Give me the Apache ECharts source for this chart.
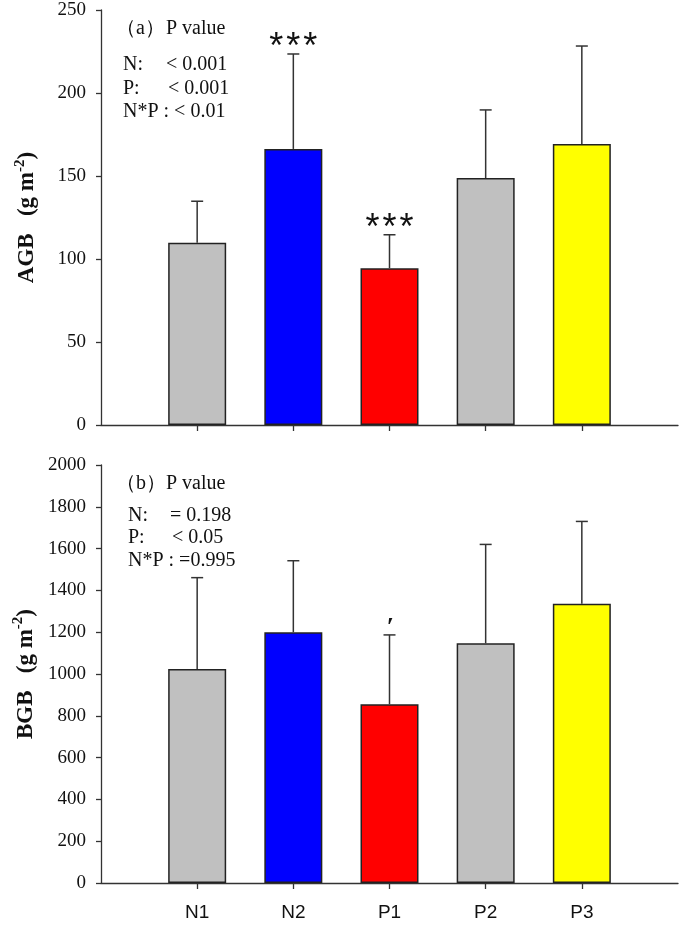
<!DOCTYPE html>
<html><head><meta charset="utf-8">
<script src="https://cdn.jsdelivr.net/npm/echarts@6/dist/echarts.min.js"></script>
<style>html,body{margin:0;padding:0;background:#fff}#c{width:685px;height:925px}</style>
</head><body><div id="c"></div>
<script>
// ---- data ----
const categories = ['N1', 'N2', 'P1', 'P2', 'P3'];
const barColors = ['#C0C0C0', '#0000FF', '#FF0000', '#C0C0C0', '#FFFF00'];
const agbMean = [109.8, 166.3, 94.5, 148.8, 169.3];
const agbUpper = [134.8, 223.5, 114.6, 189.8, 228.3];
const agbMarks = ['', '***', '***', '', ''];
const bgbMean = [1024, 1200, 855, 1147, 1336];
const bgbUpper = [1461, 1542, 1187, 1620, 1730];
const bgbMarks = ['', '', '′', '', ''];
const agbTicks = {min: 0, max: 250, interval: 50};
const bgbTicks = {min: 0, max: 2000, interval: 200};

const axisCats = [''].concat(categories, ['']);
const serif = '"Liberation Serif", "Times New Roman", serif';
const sans = '"Liberation Sans", Arial, sans-serif';
const axisColor = '#333';

function xAxis(grid, showLabels) {
  return {
    type: 'category', gridIndex: grid, data: axisCats, boundaryGap: false,
    axisLine: {lineStyle: {color: axisColor, width: 1.3}},
    axisTick: {show: true, inside: false, length: 6, alignWithLabel: true,
      interval: function (i) { return i > 0 && i < axisCats.length - 1; },
      lineStyle: {color: axisColor, width: 1.3}},
    axisLabel: {show: showLabels, interval: 0, margin: 20, fontFamily: sans, fontSize: 19, color: '#111'},
    splitLine: {show: false}
  };
}
function yAxis(grid, t, label) {
  return {
    type: 'value', gridIndex: grid, min: t.min, max: t.max, interval: t.interval,
    name: '{b|' + label + '   (g m}{s|-2}{b|)}',
    nameLocation: 'middle', nameRotate: 90, nameGap: 62,
    nameTextStyle: {rich: {
      b: {fontFamily: serif, fontWeight: 'bold', fontSize: 23, color: '#111', lineHeight: 26, verticalAlign: 'bottom'},
      s: {fontFamily: serif, fontWeight: 'bold', fontSize: 15, color: '#111', lineHeight: 26, verticalAlign: 'top'}
    }},
    axisLine: {show: true, lineStyle: {color: axisColor, width: 1.3}},
    axisTick: {show: true, inside: false, length: 5, lineStyle: {color: axisColor, width: 1.3}},
    axisLabel: {margin: 15, fontFamily: serif, fontSize: 19, color: '#111',
      formatter: function (v) { return String(v); }},
    splitLine: {show: false}
  };
}
function barSeries(grid, means) {
  return {
    type: 'bar', xAxisIndex: grid, yAxisIndex: grid, barWidth: 58,
    data: categories.map((c, i) => ({value: [c, means[i]], itemStyle: {color: barColors[i]}})),
    itemStyle: {borderColor: '#222', borderWidth: 1.5},
    silent: true, animation: false, z: 2
  };
}
function errSeries(grid, means, uppers, marks) {
  return {
    type: 'custom', xAxisIndex: grid, yAxisIndex: grid, animation: false, silent: true, z: 3,
    data: categories.map((c, i) => [c, means[i], uppers[i], i]),
    encode: {x: 0, y: [1, 2]},
    renderItem: function (params, api) {
      const x = api.value(0);
      const p0 = api.coord([x, api.value(1)]);
      const p1 = api.coord([x, api.value(2)]);
      const idx = api.value(3);
      const cap = 6;
      const children = [
        {type: 'line', shape: {x1: p0[0], y1: p0[1], x2: p1[0], y2: p1[1]}, style: {stroke: '#333', lineWidth: 1.5}},
        {type: 'line', shape: {x1: p1[0] - cap, y1: p1[1], x2: p1[0] + cap, y2: p1[1]}, style: {stroke: '#333', lineWidth: 1.5}}
      ];
      const m = marks[idx];
      if (m) {
        const star = m.indexOf('*') >= 0;
        children.push({type: 'text', x: p1[0] + (star ? 0 : 1), y: p1[1] + (star ? 12 : 6),
          style: {text: star ? m.split('').join('\u200A') : m, fill: '#111', align: 'center', verticalAlign: 'bottom',
            font: star ? ('36px ' + sans) : ('bold 26px ' + serif)}});
      }
      return {type: 'group', children: children};
    }
  };
}
function txt(x, y, s) {
  return {type: 'text', left: x, top: y, style: {text: s, fill: '#111', font: '20px ' + serif}};
}

const chart = echarts.init(document.getElementById('c'), null, {renderer: 'canvas'});
chart.setOption({
  animation: false,
  backgroundColor: '#fff',
  grid: [
    {left: 101, right: 7, top: 10, height: 415},
    {left: 101, right: 7, top: 465, height: 418}
  ],
  xAxis: [xAxis(0, false), xAxis(1, true)],
  yAxis: [yAxis(0, agbTicks, 'AGB'), yAxis(1, bgbTicks, 'BGB')],
  series: [
    barSeries(0, agbMean), errSeries(0, agbMean, agbUpper, agbMarks),
    barSeries(1, bgbMean), errSeries(1, bgbMean, bgbUpper, bgbMarks)
  ],
  graphic: [
    txt(116, 19, '（a）'), txt(166, 19, 'P value'),
    txt(123, 55, 'N:'), txt(166, 55, '< 0.001'),
    txt(123, 79, 'P:'), txt(168, 79, '< 0.001'),
    txt(123, 102, 'N*P : < 0.01'),
    txt(116, 474, '（b）'), txt(166, 474, 'P value'),
    txt(128, 506, 'N:'), txt(170, 506, '= 0.198'),
    txt(128, 528, 'P:'), txt(172, 528, '< 0.05'),
    txt(128, 551, 'N*P : =0.995')
  ]
});
</script></body></html>
